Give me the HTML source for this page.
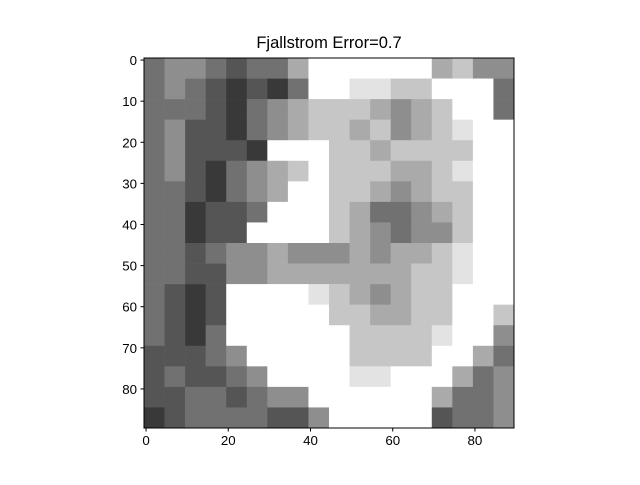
<!DOCTYPE html>
<html><head><meta charset="utf-8"><style>
body{margin:0;background:#fff;width:640px;height:480px;overflow:hidden}
svg text{font-family:"Liberation Sans","DejaVu Sans",sans-serif;fill:#000}
</style></head><body>
<svg id="chart" width="640" height="480">
<text x="329" y="48" font-size="16.5" text-anchor="middle">Fjallstrom Error=0.7</text>
<g id="cells"></g>
<rect x="144" y="58" width="370" height="370" fill="none" stroke="#000" stroke-width="1"/>
<g id="axes"></g>
</svg>
<script>
// coarse 18x18 block estimate (each block = 5x5 pixels), gray level 0 (black) .. 9 (white)
const grid = [
[4,5,5,4,3,4,4,6,9,9,9,9,9,9,6,7,5,5],
[4,5,4,3,2,3,2,4,9,9,8,8,7,7,9,9,9,4],
[4,4,4,3,2,4,5,6,7,7,7,6,5,6,7,9,9,4],
[4,5,3,3,2,4,5,6,7,7,6,7,5,6,7,8,9,9],
[4,5,3,3,3,2,9,9,9,7,7,6,7,7,7,7,9,9],
[4,5,3,2,4,5,6,7,9,7,7,7,6,6,7,8,9,9],
[4,4,3,2,4,5,6,9,9,7,7,6,5,6,7,7,9,9],
[4,4,2,3,3,4,9,9,9,7,6,4,4,5,6,7,9,9],
[4,4,2,3,3,9,9,9,9,7,6,5,4,5,5,7,9,9],
[4,4,3,4,5,5,6,5,5,5,6,5,6,6,7,8,9,9],
[4,4,3,3,5,5,6,6,6,6,6,6,6,7,7,8,9,9],
[4,3,2,3,9,9,9,9,8,7,6,5,6,7,7,9,9,9],
[4,3,2,3,9,9,9,9,9,7,7,6,6,7,7,9,9,7],
[4,3,2,4,9,9,9,9,9,9,7,7,7,7,8,9,9,5],
[3,3,3,4,5,9,9,9,9,9,7,7,7,7,9,9,6,4],
[3,4,3,3,4,5,9,9,9,9,8,8,9,9,9,6,4,5],
[3,3,4,4,3,4,5,5,9,9,9,9,9,9,6,4,4,5],
[2,3,4,4,4,4,3,3,5,9,9,9,9,9,3,4,4,5]
];
const xTicks = [0,20,40,60,80];
const yTicks = [0,10,20,30,40,50,60,70,80];
const N = 90, BLOCK = 5;
const X0 = 144, Y0 = 58, W = 370;
const sx = v => X0 + v * W / N;
const sy = v => Y0 + v * W / N;
const NS = "http://www.w3.org/2000/svg";
const cells = document.getElementById('cells');
grid.forEach((row, r) => row.forEach((v, c) => {
  const g = Math.round(v / 9 * 255);
  const rc = document.createElementNS(NS, 'rect');
  rc.setAttribute('x', sx(c * BLOCK));
  rc.setAttribute('y', sy(r * BLOCK));
  rc.setAttribute('width', sx((c + 1) * BLOCK) - sx(c * BLOCK) + 0.3);
  rc.setAttribute('height', sy((r + 1) * BLOCK) - sy(r * BLOCK) + 0.3);
  rc.setAttribute('fill', `rgb(${g},${g},${g})`);
  
  
  cells.appendChild(rc);
}));
const axes = document.getElementById('axes');
xTicks.forEach(t => {
  const x = sx(t + 0.5);
  const l = document.createElementNS(NS, 'line');
  l.setAttribute('x1', x); l.setAttribute('x2', x);
  l.setAttribute('y1', 428); l.setAttribute('y2', 431.5);
  l.setAttribute('stroke', '#000');
  
  
  axes.appendChild(l);
  const tx = document.createElementNS(NS, 'text');
  tx.setAttribute('x', x); tx.setAttribute('y', 445);
  tx.setAttribute('font-size', '13.3'); tx.setAttribute('text-anchor', 'middle');
  tx.textContent = t;
  
  
  axes.appendChild(tx);
});
yTicks.forEach(t => {
  const y = sy(t + 0.5);
  const l = document.createElementNS(NS, 'line');
  l.setAttribute('x1', 140.5); l.setAttribute('x2', 144);
  l.setAttribute('y1', y); l.setAttribute('y2', y);
  l.setAttribute('stroke', '#000');
  
  
  axes.appendChild(l);
  const tx = document.createElementNS(NS, 'text');
  tx.setAttribute('x', 137); tx.setAttribute('y', y + 5);
  tx.setAttribute('font-size', '13.3'); tx.setAttribute('text-anchor', 'end');
  tx.textContent = t;
  
  
  axes.appendChild(tx);
});
</script>
</body></html>
